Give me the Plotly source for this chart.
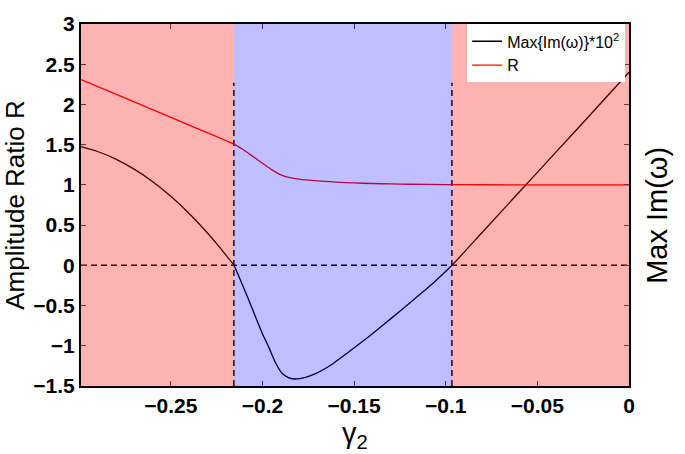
import plotly.graph_objects as go

# ---- data ----
gamma_im = [-0.299, -0.29, -0.28, -0.27, -0.26, -0.25, -0.24, -0.23, -0.225, -0.22, -0.2156,
            -0.2111, -0.2056, -0.2002, -0.1965, -0.1928, -0.1892, -0.1856, -0.182, -0.1765,
            -0.171, -0.162, -0.1528, -0.1437, -0.1347, -0.1255, -0.1164, -0.1074, -0.0966,
            -0.08, -0.06, -0.04, -0.02, 0.0]
im_vals = [1.475, 1.415, 1.321, 1.196, 1.043, 0.858, 0.645, 0.402, 0.269, 0.129, 0.0,
           -0.232, -0.537, -0.84, -1.02, -1.215, -1.345, -1.398, -1.413, -1.392,
           -1.347, -1.23, -1.075, -0.917, -0.751, -0.580, -0.406, -0.232, 0.0,
           0.412, 0.908, 1.404, 1.90, 2.40]

gamma_r = [-0.299, -0.28, -0.26, -0.24, -0.2156, -0.21, -0.205, -0.2, -0.195, -0.19,
           -0.185, -0.18, -0.17, -0.16, -0.15, -0.14, -0.13, -0.12, -0.1, -0.08, -0.05, 0.0]
r_vals = [2.31, 2.128, 1.936, 1.744, 1.506, 1.43, 1.35, 1.27, 1.19, 1.125,
          1.09, 1.072, 1.05, 1.035, 1.024, 1.017, 1.012, 1.008, 1.004, 1.002, 1.0, 1.0]

stable_bounds = [-0.2156, -0.0966]   # blue region limits (zero crossings)
x_range = [-0.299, 0.0]
y_range = [-1.5, 3.0]
vline_top = 2.27
x_ticks = [-0.25, -0.2, -0.15, -0.1, -0.05, 0]
y_ticks = [-1.5, -1, -0.5, 0, 0.5, 1, 1.5, 2, 2.5, 3]

FONT = "Liberation Sans, Arial, sans-serif"

fig = go.Figure()

# dashed reference lines
fig.add_trace(go.Scatter(x=x_range, y=[0, 0], mode="lines", showlegend=False,
                         line=dict(color="black", width=1.5, dash="6px,4px"), hoverinfo="skip"))
for b in stable_bounds:
    fig.add_trace(go.Scatter(x=[b, b], y=[y_range[0], vline_top], mode="lines", showlegend=False,
                             line=dict(color="black", width=1.5, dash="6px,4px"), hoverinfo="skip"))

fig.add_trace(go.Scatter(x=gamma_im, y=im_vals, mode="lines", name="Max{Im(ω)}*10<sup>2</sup>",
                         line=dict(color="black", width=1.3, shape="spline", smoothing=0.6)))
fig.add_trace(go.Scatter(x=gamma_r, y=r_vals, mode="lines", name="R",
                         line=dict(color="red", width=1.3, shape="spline", smoothing=0.6)))

# translucent shading over the regions
regions = [(x_range[0], stable_bounds[0], "red", 0.30),
           (stable_bounds[0], stable_bounds[1], "blue", 0.25),
           (stable_bounds[1], x_range[1], "red", 0.30)]
for x0, x1, c, op in regions:
    fig.add_shape(type="rect", xref="x", yref="y", x0=x0, x1=x1, y0=y_range[0], y1=y_range[1],
                  fillcolor=c, opacity=op, line_width=0, layer="above")

fig.update_layout(
    width=685, height=454,
    margin=dict(l=81, r=56, t=16, b=68),
    paper_bgcolor="white", plot_bgcolor="white",
    font=dict(family=FONT, color="black"),
    showlegend=True,
    legend=dict(x=0.993, y=0.999, xanchor="right", yanchor="top",
                bgcolor="white", borderwidth=0, font=dict(size=16, family=FONT),
                tracegroupgap=0, itemwidth=30),
    xaxis=dict(range=x_range, tickvals=x_ticks, showgrid=False, zeroline=False,
               showline=True, linecolor="black", linewidth=2, mirror="ticks",
               ticks="inside", ticklen=5, tickcolor="#444",
               tickfont=dict(size=21, weight="bold"),
               title=dict(text="γ<sub>2</sub>", font=dict(size=29), standoff=2)),
    yaxis=dict(range=y_range, tickvals=y_ticks, showgrid=False, zeroline=False,
               showline=True, linecolor="black", linewidth=2, mirror="ticks",
               ticks="inside", ticklen=5, tickcolor="#444",
               tickfont=dict(size=21, weight="bold"),
               title=dict(text="Amplitude Ratio R", font=dict(size=26), standoff=2)),
)

fig.add_annotation(text="Max Im(ω)", xref="paper", yref="paper", x=1.0, y=0.47,
                   xanchor="left", yanchor="middle", xshift=10, textangle=-90,
                   showarrow=False, font=dict(size=29, family=FONT))

fig.write_html("out.html")
